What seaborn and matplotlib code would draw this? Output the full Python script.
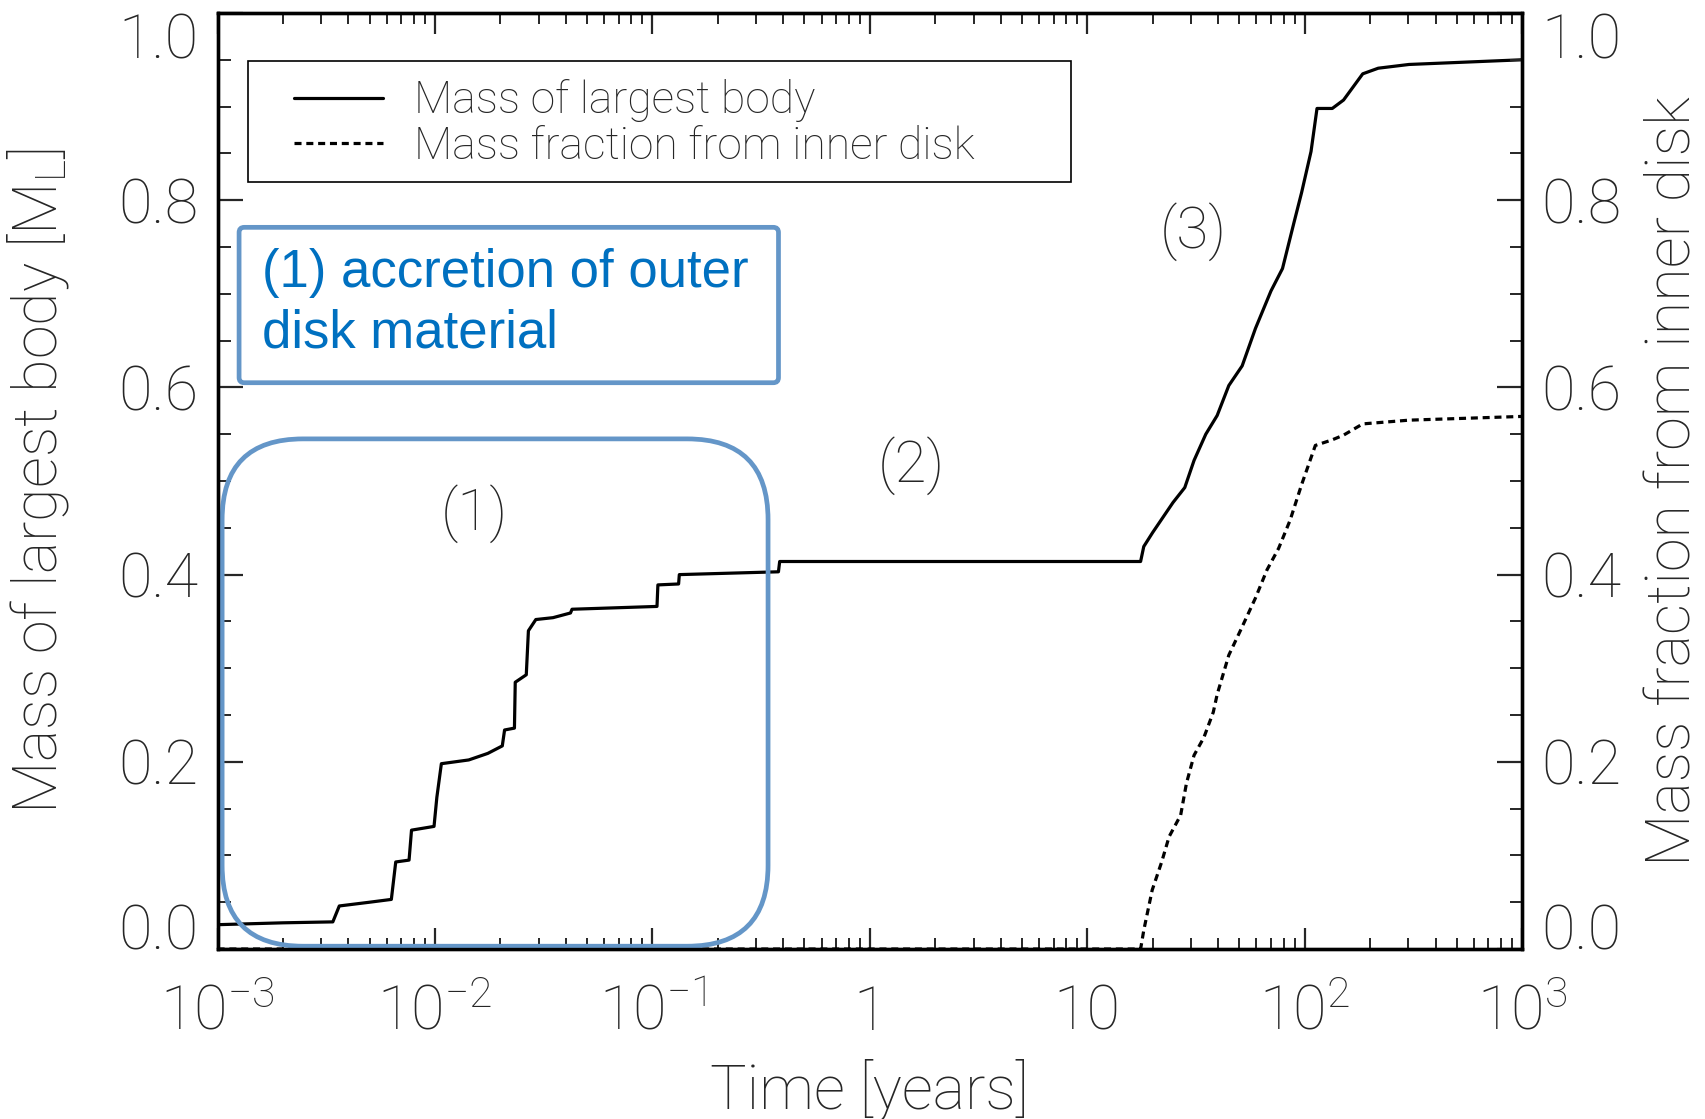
import pandas as pd
import seaborn as sns
import matplotlib.pyplot as plt
from matplotlib.patches import FancyBboxPatch, Rectangle
from matplotlib.ticker import FixedLocator, MultipleLocator, LogLocator, NullFormatter

# mass of largest body [M_L] vs time [years]
t_body = [0.001, 0.0020, 0.00339, 0.00363, 0.0050, 0.0063, 0.0066, 0.0076, 0.0078,
          0.0099, 0.0102, 0.0107, 0.0143, 0.0175, 0.0204, 0.0209, 0.0232, 0.0234,
          0.0263, 0.0269, 0.0291, 0.0349, 0.0420, 0.0427, 0.105, 0.106, 0.132,
          0.133, 0.380, 0.385, 17.6, 18.2, 20.0, 24.8, 28.1, 31.0, 35.1, 39.6,
          44.8, 51.6, 59.4, 70.0, 79.1, 89.3, 96.8, 107, 114, 134, 151, 185,
          218, 302, 1000]
m_body = [0.026, 0.028, 0.029, 0.046, 0.050, 0.053, 0.093, 0.095, 0.127,
          0.131, 0.162, 0.198, 0.202, 0.209, 0.217, 0.234, 0.236, 0.285,
          0.293, 0.340, 0.352, 0.354, 0.359, 0.363, 0.366, 0.389, 0.390,
          0.400, 0.403, 0.414, 0.414, 0.430, 0.445, 0.477, 0.493, 0.522, 0.550, 0.570,
          0.602, 0.623, 0.663, 0.703, 0.727, 0.776, 0.808, 0.852, 0.898, 0.898, 0.907, 0.935,
          0.941, 0.945, 0.950]

# mass fraction from inner disk vs time [years]
t_frac = [0.001, 17.6, 18.2, 19.9, 22.0, 23.8, 26.9, 28.6, 31.0, 34.4, 38.0, 39.6,
          44.8, 50.6, 59.4, 67.1, 75.9, 85.7, 96.8, 112, 134, 151, 185, 302, 1000]
m_frac = [0.0, 0.0, 0.020, 0.063, 0.093, 0.120, 0.143, 0.177, 0.207, 0.226, 0.253, 0.272,
          0.314, 0.340, 0.375, 0.405, 0.428, 0.458, 0.496, 0.538, 0.544, 0.549, 0.561, 0.565, 0.569]

x_ticks = [1e-3, 1e-2, 1e-1, 1, 10, 1e2, 1e3]
x_labels = ["$10^{-3}$", "$10^{-2}$", "$10^{-1}$", "1", "10", "$10^{2}$", "$10^{3}$"]
y_ticks = [0.0, 0.2, 0.4, 0.6, 0.8, 1.0]

sns.set_style("ticks")
plt.rcParams["font.family"] = ["Roboto", "DejaVu Sans"]
plt.rcParams["font.weight"] = "light"
plt.rcParams["axes.labelweight"] = "light"
plt.rcParams["mathtext.fontset"] = "custom"
plt.rcParams["mathtext.rm"] = "Roboto:light"
plt.rcParams["mathtext.it"] = "Roboto:light"
plt.rcParams["mathtext.default"] = "rm"

fig = plt.figure(figsize=(17.05, 11.19), dpi=100)
ax = fig.add_axes([0.1276, 0.1519, 0.7651, 0.8365])

body = pd.DataFrame({"t": t_body, "m": m_body})
frac = pd.DataFrame({"t": t_frac, "m": m_frac})

sns.lineplot(data=body, x="t", y="m", ax=ax, color="black", lw=2.3,
             estimator=None, sort=False, label="Mass of largest body")
sns.lineplot(data=frac, x="t", y="m", ax=ax, color="black", lw=2.3,
             estimator=None, sort=False, linestyle=(0, (2.2, 1.5)),
             label="Mass fraction from inner disk")

ax.set_xscale("log")
ax.set_xlim(1e-3, 1e3)
ax.set_ylim(0, 1)

tick_fs = 44
ax.xaxis.set_major_locator(FixedLocator(x_ticks))
ax.set_xticklabels(x_labels, fontsize=tick_fs)
ax.xaxis.set_minor_locator(LogLocator(base=10, subs=range(2, 10), numticks=20))
ax.xaxis.set_minor_formatter(NullFormatter())
for lab in ax.get_xticklabels():
    lab.set_va("baseline")

ax.tick_params(axis="x", which="major", direction="in", length=15, width=1.6,
               top=True, pad=58)
ax.tick_params(axis="x", which="minor", direction="in", length=8, width=1.4, top=True)


def style_y(a, pad):
    a.set_ylim(0, 1)
    a.set_yticks(y_ticks)
    a.set_yticklabels([f"{v:.1f}" for v in y_ticks], fontsize=tick_fs)
    a.yaxis.set_minor_locator(MultipleLocator(0.05))
    a.tick_params(axis="y", which="major", direction="in", length=18, width=1.6, pad=pad)
    a.tick_params(axis="y", which="minor", direction="in", length=9, width=1.4)
    labs = a.get_yticklabels()
    labs[0].set_va("baseline")
    labs[-1].set_va("top")
    for s in a.spines.values():
        s.set_linewidth(2.4)
        s.set_color("black")


style_y(ax, 14)
ax2 = ax.twinx()
style_y(ax2, 14)

ax.set_xlabel("Time [years]", fontsize=44)
ax.set_ylabel("Mass of largest body [M$_L$]", fontsize=44)
ax2.set_ylabel("Mass fraction from inner disk", fontsize=44)
ax.xaxis.set_label_coords(0.5, -0.117)
ax.yaxis.set_label_coords(-0.112, 0.5)
ax2.yaxis.set_label_coords(1.094, 0.5)

# legend with its own frame
ax.add_patch(Rectangle((0.0234, 0.819), 0.631, 0.130, transform=ax.transAxes,
                       fill=False, edgecolor="black", lw=1.2, zorder=4))
leg = ax.legend(loc="upper left", bbox_to_anchor=(0.0586, 0.929), borderaxespad=0,
                fontsize=32, frameon=False, handlelength=2.0,
                handletextpad=0.7, labelspacing=0.07, borderpad=0)

# phase labels
ax.text(0.197, 0.465, "(1)", transform=ax.transAxes, fontsize=42, ha="center", va="center")
ax.text(0.532, 0.517, "(2)", transform=ax.transAxes, fontsize=42, ha="center", va="center")
ax.text(0.748, 0.766, "(3)", transform=ax.transAxes, fontsize=42, ha="center", va="center")

# highlight of phase (1)
aspect = (0.7651 * 17.05) / (0.8365 * 11.19)
ax.add_patch(FancyBboxPatch((0.0035, 0.003), 0.4185, 0.542, transform=ax.transAxes,
                            boxstyle="round,pad=0,rounding_size=0.062",
                            mutation_aspect=aspect, fill=False,
                            edgecolor="#6496c8", lw=3.4, clip_on=False, zorder=5))
ax.add_patch(FancyBboxPatch((0.0165, 0.605), 0.4135, 0.166, transform=ax.transAxes,
                            boxstyle="round,pad=0,rounding_size=0.004",
                            mutation_aspect=aspect, facecolor="white",
                            edgecolor="#6496c8", lw=3.4, clip_on=False, zorder=5))
ax.text(0.034, 0.690, "(1) accretion of outer\ndisk material", transform=ax.transAxes,
        fontsize=38, color="#0070c0", ha="left", va="center", linespacing=1.25,
        family=["Liberation Sans", "DejaVu Sans"], fontweight="normal", zorder=6)

fig.savefig("out.png", dpi=100)
